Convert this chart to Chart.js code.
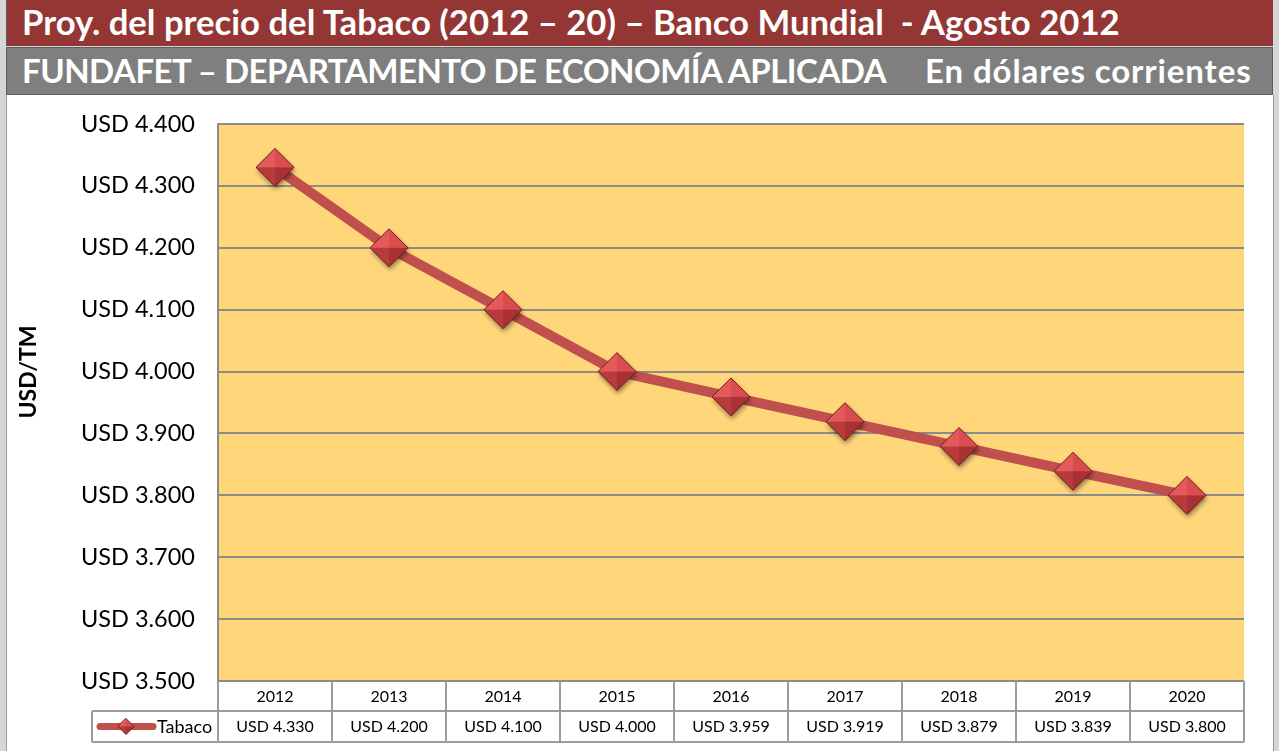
<!DOCTYPE html>
<html>
<head>
<meta charset="utf-8">
<script src="https://cdn.jsdelivr.net/npm/chart.js@4.4.0/dist/chart.umd.min.js"></script>
<style>
    html, body { margin: 0; padding: 0; }
    body {
        width: 1279px; height: 751px; overflow: hidden; position: relative;
        background: #d6d6d6; font-family: Lato, "Open Sans", sans-serif;
    }
    .bar {
        position: absolute; left: 6px; width: 1267px; box-sizing: border-box;
        color: #fff; font-weight: bold; white-space: pre; padding-left: 15px;
    }
    #title { top: 0; height: 46px; line-height: 44px; font-size: 34.7px; background: #943634; border-left: 1px solid #5e5e5e; }
    #subtitle { top: 47px; height: 48px; line-height: 45px; font-size: 33px; background: #7f7f7f; border: 1px solid #5e5e5e; }
    #subtitle .left { letter-spacing: -0.5px; }
    #subtitle .right { position: absolute; left: 918px; top: 0; letter-spacing: 0.9px; }
    #panel {
        position: absolute; left: 6px; top: 95px; width: 1266px; height: 656px;
        background: #fff; border-left: 1px solid #9a9a9a; border-right: 1px solid #9a9a9a;
    }
    canvas { display: block; }
</style>
</head>
<body>
<div id="title" class="bar">Proy. del precio del Tabaco (2012 – 20) – Banco Mundial  - Agosto 2012</div>
<div id="subtitle" class="bar"><span class="left">FUNDAFET – DEPARTAMENTO DE ECONOMÍA APLICADA</span><span class="right">En dólares corrientes</span></div>
<div id="panel"><canvas id="chart" width="1266" height="656"></canvas></div>
<script>
const years = ["2012", "2013", "2014", "2015", "2016", "2017", "2018", "2019", "2020"];
const tabaco = [4330, 4200, 4100, 4000, 3959, 3919, 3879, 3839, 3800];
const seriesName = "Tabaco";
const axisTitle = "USD/TM";
const yMin = 3500;
const yMax = 4400;
const yStep = 100;

const lineColor = "#c0504d";
const gridColor = "#8c8c8c";
const tableColor = "#9c9c9c";
const fontFamily = "Lato, 'Open Sans', sans-serif";

function formatUsd(value) {
    return "USD " + String(value).replace(/\B(?=(\d{3})+(?!\d))/g, ".");
}

function diamondPath(g, cx, cy, r) {
    g.beginPath();
    g.moveTo(cx, cy - r);
    g.lineTo(cx + r, cy);
    g.lineTo(cx, cy + r);
    g.lineTo(cx - r, cy);
    g.closePath();
}

function drawDiamond(g, cx, cy, r, shadow) {
    g.save();
    if (shadow) {
        g.save();
        g.shadowColor = "rgba(0,0,0,0.45)";
        g.shadowBlur = 5;
        g.shadowOffsetX = 1;
        g.shadowOffsetY = 3;
        diamondPath(g, cx, cy, r);
        g.fillStyle = "#a83232";
        g.fill();
        g.restore();
    }
    const facets = [
        [[cx, cy - r], [cx - r, cy], "#e45a5b"],
        [[cx, cy - r], [cx + r, cy], "#d94d4f"],
        [[cx - r, cy], [cx, cy + r], "#b83a3b"],
        [[cx + r, cy], [cx, cy + r], "#a83133"],
    ];
    facets.forEach(([a, b, color]) => {
        g.beginPath();
        g.moveTo(cx, cy);
        g.lineTo(a[0], a[1]);
        g.lineTo(b[0], b[1]);
        g.closePath();
        g.fillStyle = color;
        g.fill();
    });
    diamondPath(g, cx, cy, r);
    g.strokeStyle = "#6e1f1f";
    g.lineWidth = 1;
    g.stroke();
    g.restore();
}

function makeMarker(r) {
    const pad = 7;
    const canvas = document.createElement("canvas");
    canvas.width = canvas.height = 2 * r + 2 * pad;
    drawDiamond(canvas.getContext("2d"), r + pad, r + pad, r, true);
    return canvas;
}

const plotBackground = {
    id: "plotBackground",
    beforeDraw(chart) {
        const { ctx, chartArea: a } = chart;
        ctx.save();
        ctx.fillStyle = "#ffd67a";
        ctx.fillRect(a.left, a.top, a.right - a.left, a.bottom - a.top);
        ctx.restore();
    },
};

const dataTable = {
    id: "dataTable",
    afterDraw(chart) {
        const { ctx, chartArea: a } = chart;
        const x = chart.scales.x;
        const colW = (a.right - a.left) / years.length;
        const top = a.bottom;
        const mid = top + 30;
        const bottom = mid + 31;
        const legendLeft = 85;

        ctx.save();
        ctx.strokeStyle = tableColor;
        ctx.lineWidth = 2;
        ctx.beginPath();
        ctx.moveTo(legendLeft, mid); ctx.lineTo(a.right, mid);
        ctx.moveTo(legendLeft, bottom); ctx.lineTo(a.right, bottom);
        ctx.moveTo(legendLeft, mid); ctx.lineTo(legendLeft, bottom);
        for (let i = 0; i <= years.length; i++) {
            const px = Math.round(a.left + i * colW);
            ctx.moveTo(px, top); ctx.lineTo(px, bottom);
        }
        ctx.stroke();

        ctx.fillStyle = "#000";
        ctx.textAlign = "center";
        ctx.textBaseline = "middle";
        ctx.font = "16px " + fontFamily;
        years.forEach((year, i) => {
            const px = x.getPixelForValue(i);
            ctx.fillText(year, px, top + 16);
            ctx.fillText(formatUsd(tabaco[i]), px, mid + 16);
        });

        // legend key
        const ly = mid + 15.5;
        ctx.strokeStyle = lineColor;
        ctx.lineWidth = 7;
        ctx.lineCap = "round";
        ctx.beginPath();
        ctx.moveTo(93, ly); ctx.lineTo(146, ly);
        ctx.stroke();
        drawDiamond(ctx, 119, ly, 8, false);
        ctx.fillStyle = "#000";
        ctx.textAlign = "left";
        ctx.font = "18px " + fontFamily;
        ctx.fillText(seriesName, 150, ly + 1);

        // axis title
        ctx.translate(22, 277);
        ctx.rotate(-Math.PI / 2);
        ctx.textAlign = "center";
        ctx.font = "bold 23px " + fontFamily;
        ctx.fillText(axisTitle, 0, 0);
        ctx.restore();
    },
};

new Chart(document.getElementById("chart"), {
    type: "line",
    data: {
        labels: years,
        datasets: [{
            label: seriesName,
            data: tabaco,
            borderColor: lineColor,
            borderWidth: 10,
            borderJoinStyle: "round",
            pointStyle: makeMarker(19),
            pointRadius: 19,
            tension: 0,
        }],
    },
    options: {
        responsive: false,
        animation: false,
        layout: { padding: { left: 0, right: 29, top: 29, bottom: 70 } },
        plugins: {
            legend: { display: false },
            tooltip: { enabled: false },
        },
        scales: {
            x: { display: false, offset: true },
            y: {
                min: yMin,
                max: yMax,
                ticks: {
                    stepSize: yStep,
                    padding: 0,
                    color: "#000",
                    font: { family: fontFamily, size: 23.5 },
                    callback: (value) => formatUsd(value),
                },
                grid: { color: gridColor, lineWidth: 2, drawTicks: true, tickLength: 23, tickColor: "rgba(0,0,0,0)" },
                border: { color: gridColor, width: 2 },
                afterFit: (scale) => { scale.width = 211; },
            },
        },
    },
    plugins: [plotBackground, dataTable],
});
</script>
</body>
</html>
